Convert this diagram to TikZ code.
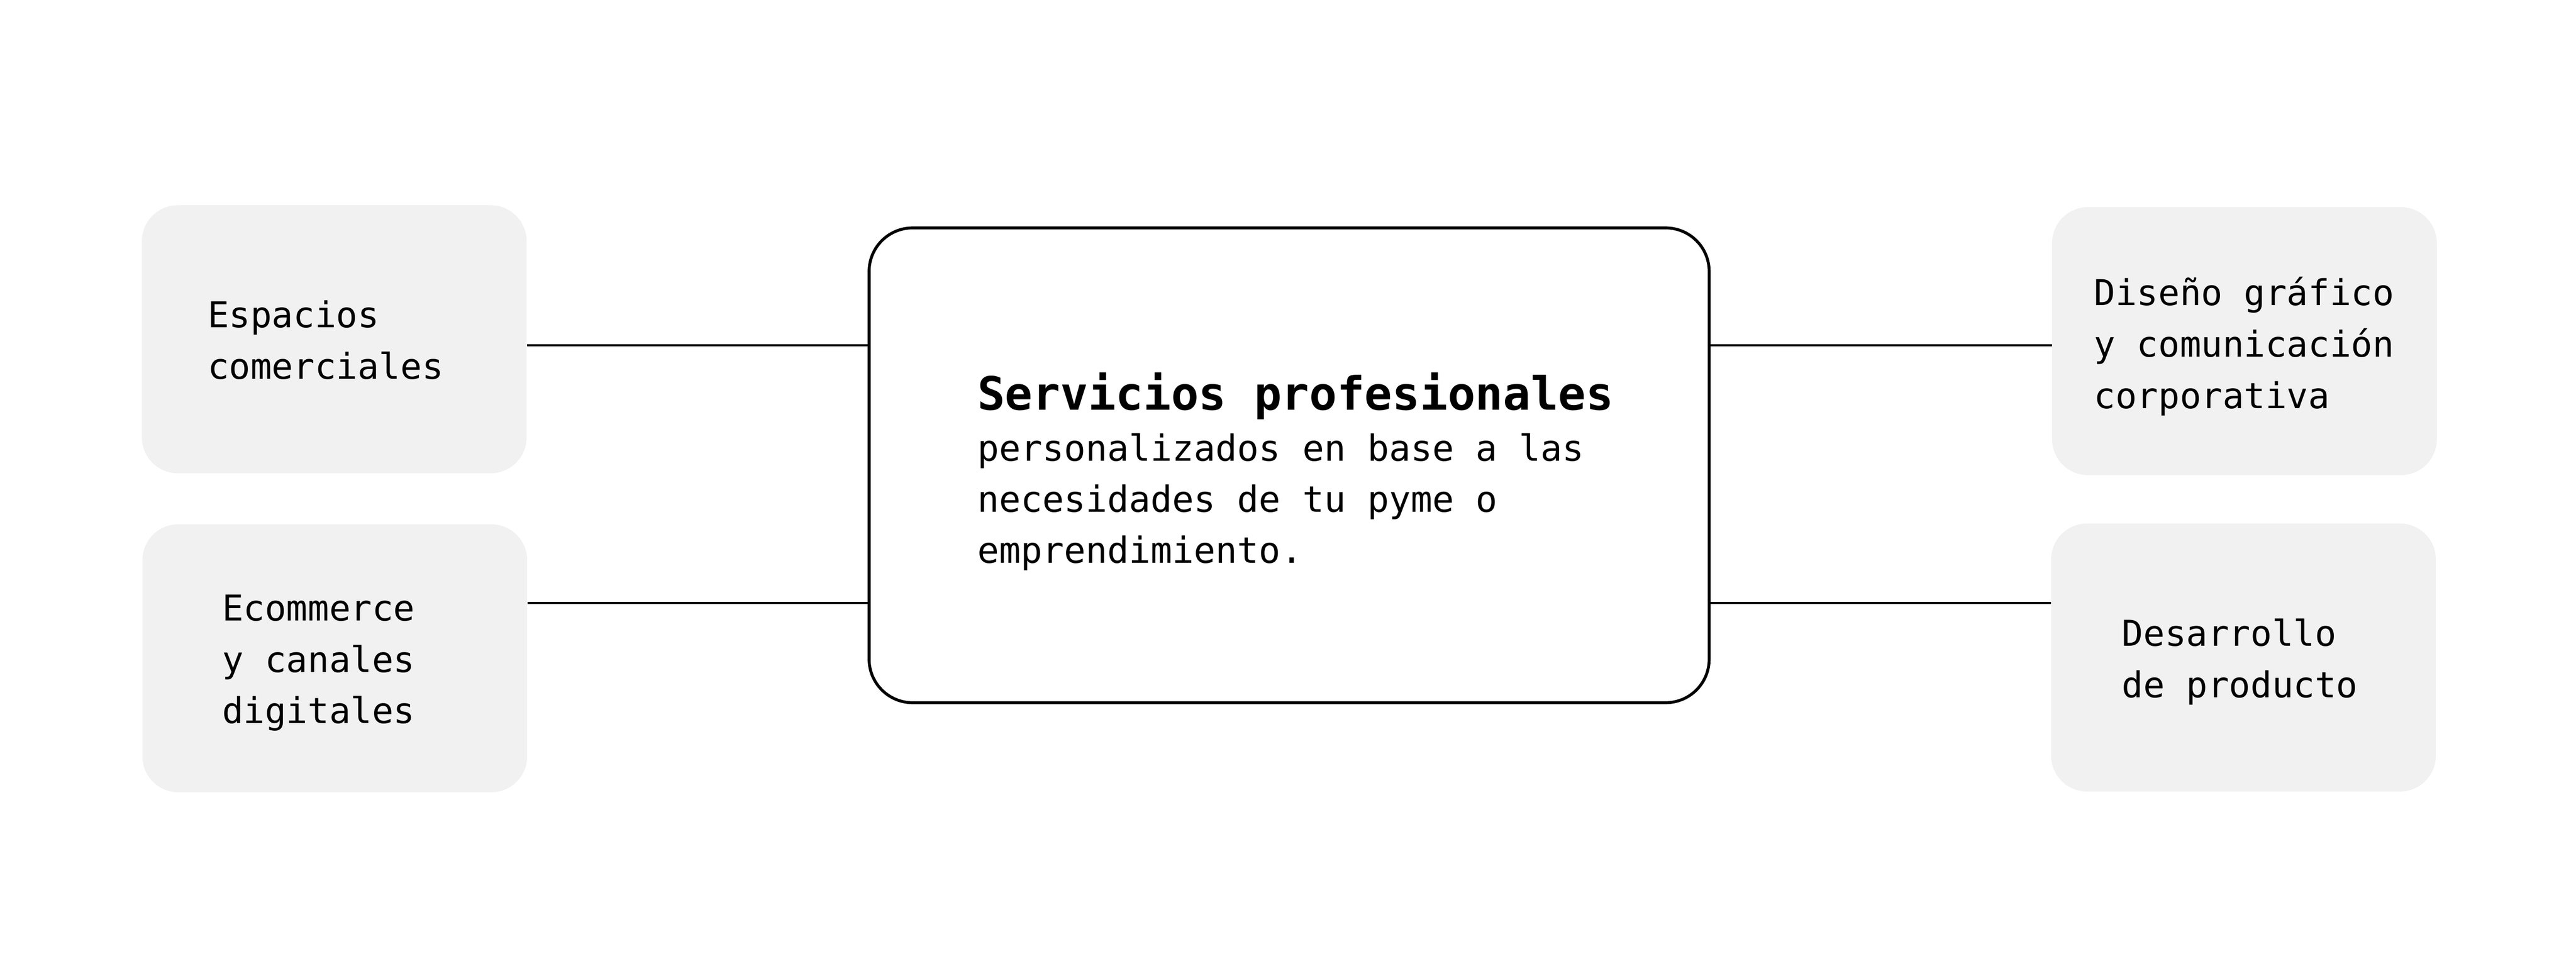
\documentclass[tikz,border=0pt]{standalone}
\usepackage{fontspec}
\newfontfamily\dmono{DejaVu Sans Mono}
\definecolor{boxgray}{RGB}{241,241,241}
\begin{document}
\begin{tikzpicture}[x=1cm,y=1cm,
  sidebox/.style={fill=boxgray, draw=none, rounded corners=0.95cm, minimum width=10.18cm, minimum height=7.09cm, inner sep=0pt},
  corebox/.style={draw=black, line width=2.2pt, rounded corners=1.15cm, minimum width=22.23cm, minimum height=12.56cm, inner sep=0pt, fill=white},
  link/.style={draw=black, line width=1.8pt},
  lbl/.style={inner sep=0pt, anchor=base west, font={\dmono\fontsize{26.8}{38.7}\selectfont}},
  corelbl/.style={inner sep=0pt, anchor=base west, font={\dmono\fontsize{27.1}{38.5}\selectfont}}]
\useasboundingbox[fill=white] (0,0) rectangle (68.17,25.29);
% boxes
\node[sidebox] (lt) at (8.845,16.315) {};
\node[sidebox] (lb) at (8.86,7.875) {};
\node[sidebox] (rt) at (59.395,16.265) {};
\node[sidebox] (rb) at (59.37,7.895) {};
\node[corebox] (core) at (34.115,12.98) {};
% connector levels
\coordinate (ya) at (0,16.155);
\coordinate (yb) at (0,9.34);
\draw[link] (lt.east |- ya) -- (core.west |- ya);
\draw[link] (lb.east |- yb) -- (core.west |- yb);
\draw[link] (core.east |- ya) -- (rt.west |- ya);
\draw[link] (core.east |- yb) -- (rb.west |- yb);
% texts
\node[lbl] (ltt) at (5.49,16.62) {\begin{tabular}[t]{@{}l@{}}Espacios\\comerciales\end{tabular}};
\node[lbl] (lbt) at (5.87,8.87) {\begin{tabular}[t]{@{}l@{}}Ecommerce\\y canales\\digitales\end{tabular}};
\node[lbl] (rtt) at (55.41,17.21) {\begin{tabular}[t]{@{}l@{}}Diseño gráfico\\y comunicación\\corporativa\end{tabular}};
\node[lbl] (rbt) at (56.15,8.20) {\begin{tabular}[t]{@{}l@{}}Desarrollo\\de producto\end{tabular}};
\node[corelbl] (coret) at (25.86,14.45) {\begin{tabular}[t]{@{}l@{}}{\fontsize{34.6}{38.5}\selectfont\bfseries Servicios profesionales}\\personalizados en base a las\\necesidades de tu pyme o\\emprendimiento.\end{tabular}};
\end{tikzpicture}
\end{document}
